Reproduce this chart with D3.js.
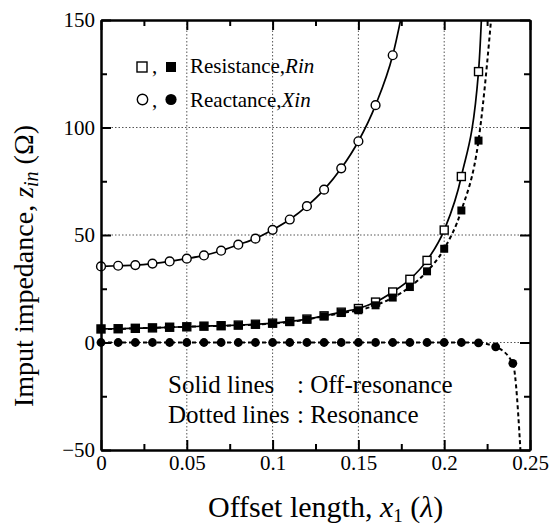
<!DOCTYPE html>
<html>
<head>
<meta charset="utf-8">
<script src="https://cdn.jsdelivr.net/npm/d3@7"></script>
<style>
  body { margin: 0; background: #fff; }
  svg text { font-family: 'Liberation Serif', 'Times New Roman', Times, 'DejaVu Serif', serif; }
  .axis path, .axis line { stroke: #000; stroke-width: 2; }
  .axis text { font-size: 21px; fill: #000; }
</style>
</head>
<body>
<script>
'use strict';

// offset length samples (lambda)
const xSteps = [0, 0.01, 0.02, 0.03, 0.04, 0.05, 0.06, 0.07, 0.08, 0.09, 0.1, 0.11,
  0.12, 0.13, 0.14, 0.15, 0.16, 0.17, 0.18, 0.19, 0.2, 0.21, 0.22, 0.23, 0.24];

// off-resonance (solid lines, open markers)
const rinOff = [6.3, 6.4, 6.6, 6.8, 7.1, 7.3, 7.6, 7.8, 8.1, 8.5, 9.0, 9.8, 10.9, 12.4,
  14.1, 15.8, 18.8, 23.5, 29.4, 38.2, 52.3, 77.2, 126];
const xinOff = [35.4, 35.7, 36.0, 36.7, 37.7, 39.0, 40.5, 42.7, 45.5, 48.3, 52.4, 57.2,
  63.4, 71.1, 81.0, 93.6, 110.4, 133.6];

// resonance (dotted lines, filled markers)
const rinRes = [6.3, 6.3, 6.6, 6.8, 7.1, 7.3, 7.6, 7.7, 8.0, 8.3, 8.8, 9.5, 10.7, 12.2,
  13.7, 15.0, 17.3, 20.9, 25.8, 33.1, 43.6, 61.4, 93.9];
const xinRes = [0, 0, 0, 0, 0, 0, 0, 0, 0, 0, 0, 0, 0, 0, 0, 0, 0, 0, 0, 0, 0, 0,
  -0.2, -2.0, -9.7];

// where each curve leaves the frame (line only, no marker)
const rinOffTail = [0.225, 220];
const xinOffTail = [0.18, 172];
const rinResTail = [0.23, 175];
const xinResTail = [0.245, -58];

const xMajor = [0, 0.05, 0.1, 0.15, 0.2, 0.25];
const xMinor = [0.025, 0.075, 0.125, 0.175, 0.225];
const yMajor = [-50, 0, 50, 100, 150];
const yMinor = [-25, 25, 75, 125];
const xGrid = [0.05, 0.1, 0.15, 0.2];
const yGrid = [0, 50, 100];

(function () {

  const W = 549, H = 527;
  const pLeft = 101, pTop = 20, pRight = 530, pBottom = 450;

  const svg = d3.select('body').append('svg')
    .attr('width', W).attr('height', H);

  const x = d3.scaleLinear().domain([0, 0.25]).range([pLeft, pRight]);
  const y = d3.scaleLinear().domain([-50, 150]).range([pBottom, pTop]);

  // clip for the curves
  svg.append('clipPath').attr('id', 'plot')
    .append('rect')
    .attr('x', pLeft).attr('y', pTop)
    .attr('width', pRight - pLeft).attr('height', pBottom - pTop);

  // dotted grid
  svg.append('g').selectAll('line')
    .data(xGrid).enter().append('line')
    .attr('x1', d => x(d)).attr('x2', d => x(d))
    .attr('y1', pTop).attr('y2', pBottom)
    .attr('stroke', '#555').attr('stroke-width', 1)
    .attr('stroke-dasharray', '1.5,2');

  svg.append('g').selectAll('line')
    .data(yGrid).enter().append('line')
    .attr('x1', pLeft).attr('x2', pRight)
    .attr('y1', d => y(d)).attr('y2', d => y(d))
    .attr('stroke', '#555').attr('stroke-width', 1)
    .attr('stroke-dasharray', '1.5,2');

  // build [x, y] pairs for a series plus its tail
  function pairs(vals, tail) {
    let pts = vals.map((v, i) => [xSteps[i], v]);
    if (tail) pts.push(tail);
    return pts;
  }

  const line = d3.line()
    .x(d => x(d[0]))
    .y(d => y(d[1]))
    .curve(d3.curveMonotoneX);

  const curves = svg.append('g').attr('clip-path', 'url(#plot)');

  curves.append('path')
    .attr('d', line(pairs(rinRes, rinResTail)))
    .attr('fill', 'none').attr('stroke', '#000').attr('stroke-width', 2)
    .attr('stroke-dasharray', '4,3');

  curves.append('path')
    .attr('d', line(pairs(xinRes, xinResTail)))
    .attr('fill', 'none').attr('stroke', '#000').attr('stroke-width', 2)
    .attr('stroke-dasharray', '4,3');

  curves.append('path')
    .attr('d', line(pairs(rinOff, rinOffTail)))
    .attr('fill', 'none').attr('stroke', '#000').attr('stroke-width', 1.7);

  curves.append('path')
    .attr('d', line(pairs(xinOff, xinOffTail)))
    .attr('fill', 'none').attr('stroke', '#000').attr('stroke-width', 1.7);

  // markers
  const sq = 8, rc = 4.4;

  svg.append('g').selectAll('rect')
    .data(pairs(rinOff)).enter().append('rect')
    .attr('x', d => x(d[0]) - sq / 2).attr('y', d => y(d[1]) - sq / 2)
    .attr('width', sq).attr('height', sq)
    .attr('fill', '#fff').attr('stroke', '#000').attr('stroke-width', 1.4);

  svg.append('g').selectAll('rect')
    .data(pairs(rinRes)).enter().append('rect')
    .attr('x', d => x(d[0]) - sq / 2).attr('y', d => y(d[1]) - sq / 2)
    .attr('width', sq).attr('height', sq)
    .attr('fill', '#000');

  svg.append('g').selectAll('circle')
    .data(pairs(xinRes)).enter().append('circle')
    .attr('cx', d => x(d[0])).attr('cy', d => y(d[1]))
    .attr('r', rc).attr('fill', '#000');

  svg.append('g').selectAll('circle')
    .data(pairs(xinOff)).enter().append('circle')
    .attr('cx', d => x(d[0])).attr('cy', d => y(d[1]))
    .attr('r', rc).attr('fill', '#fff').attr('stroke', '#000').attr('stroke-width', 1.4);

  // axes: major + minor ticks on all four sides, pointing inward
  function addAxis(axis, transform, labels) {
    let g = svg.append('g').attr('class', 'axis').attr('transform', transform).call(axis);
    g.attr('font-family', null).attr('font-size', null);
    if (!labels) g.selectAll('text').remove();
    return g;
  }

  addAxis(d3.axisBottom(x).tickValues(xMajor).tickSize(-10).tickSizeOuter(0).tickPadding(5)
    .tickFormat(d3.format('')), `translate(0,${pBottom})`, true);
  addAxis(d3.axisBottom(x).tickValues(xMinor).tickSize(-6).tickSizeOuter(0), `translate(0,${pBottom})`, false);
  addAxis(d3.axisTop(x).tickValues(xMajor).tickSize(-10).tickSizeOuter(0), `translate(0,${pTop})`, false);
  addAxis(d3.axisTop(x).tickValues(xMinor).tickSize(-6).tickSizeOuter(0), `translate(0,${pTop})`, false);
  addAxis(d3.axisLeft(y).tickValues(yMajor).tickSize(-10).tickSizeOuter(0).tickPadding(6),
    `translate(${pLeft},0)`, true);
  addAxis(d3.axisLeft(y).tickValues(yMinor).tickSize(-6).tickSizeOuter(0), `translate(${pLeft},0)`, false);
  addAxis(d3.axisRight(y).tickValues(yMajor).tickSize(-10).tickSizeOuter(0), `translate(${pRight},0)`, false);
  addAxis(d3.axisRight(y).tickValues(yMinor).tickSize(-6).tickSizeOuter(0), `translate(${pRight},0)`, false);

  // legend
  const legend = svg.append('g').attr('font-size', '21px');
  legend.append('rect').attr('x', 137).attr('y', 62).attr('width', 10).attr('height', 10)
    .attr('fill', '#fff').attr('stroke', '#000').attr('stroke-width', 1.4);
  legend.append('text').attr('x', 152).attr('y', 73).text(',');
  legend.append('rect').attr('x', 166).attr('y', 62).attr('width', 10).attr('height', 10)
    .attr('fill', '#000');
  legend.append('circle').attr('cx', 142.5).attr('cy', 99.5).attr('r', 5.2)
    .attr('fill', '#fff').attr('stroke', '#000').attr('stroke-width', 1.4);
  legend.append('text').attr('x', 152).attr('y', 107).text(',');
  legend.append('circle').attr('cx', 171).attr('cy', 99.5).attr('r', 5.6).attr('fill', '#000');

  let t1 = legend.append('text').attr('x', 190).attr('y', 73);
  t1.append('tspan').text('Resistance,');
  t1.append('tspan').attr('font-style', 'italic').text('Rin');
  let t2 = legend.append('text').attr('x', 190).attr('y', 107);
  t2.append('tspan').text('Reactance,');
  t2.append('tspan').attr('font-style', 'italic').text('Xin');

  // note
  const note = svg.append('g').attr('font-size', '25px');
  note.append('text').attr('x', 168).attr('y', 393).text('Solid lines');
  note.append('text').attr('x', 297).attr('y', 393).text(': Off-resonance');
  note.append('text').attr('x', 168).attr('y', 423).text('Dotted lines');
  note.append('text').attr('x', 297).attr('y', 423).text(': Resonance');

  // x title
  let xt = svg.append('text').attr('x', 208).attr('y', 517).attr('font-size', '30px');
  xt.append('tspan').text('Offset length, ');
  xt.append('tspan').attr('font-style', 'italic').text('x');
  xt.append('tspan').attr('font-size', '19px').attr('dy', 5).text('1');
  xt.append('tspan').attr('dy', -5).text(' (');
  xt.append('tspan').attr('font-style', 'italic').text('λ');
  xt.append('tspan').text(')');

  // y title
  let yt = svg.append('text')
    .attr('transform', 'translate(33,407)rotate(-90)')
    .attr('font-size', '28px');
  yt.append('tspan').text('Imput impedance, ');
  yt.append('tspan').attr('font-style', 'italic').text('z');
  yt.append('tspan').attr('font-style', 'italic').attr('font-size', '20px').attr('dy', 5).text('in');
  yt.append('tspan').attr('dy', -5).text(' (Ω)');

})();
</script>
</body>
</html>
